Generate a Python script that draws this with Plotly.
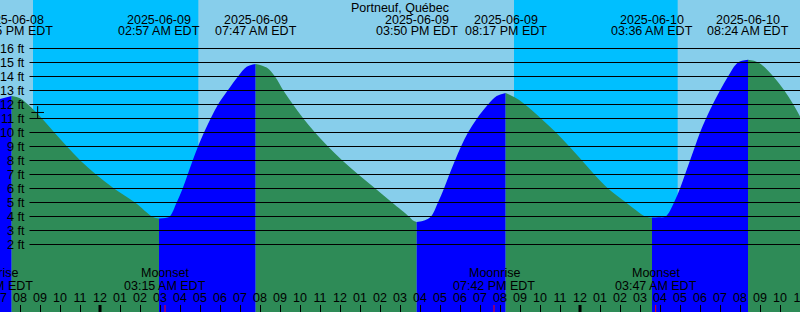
import plotly.graph_objects as go
import pandas as pd

# ---------------- data ----------------
x_start = '2025-06-08 19:00'
x_end = '2025-06-10 11:00'

tide_times = [
    # rising to the 06-08 high
    '2025-06-08 19:00', '2025-06-08 19:35',
    # falling
    '2025-06-08 20:00', '2025-06-08 20:24', '2025-06-08 21:06', '2025-06-08 21:43',
    '2025-06-08 22:21', '2025-06-08 23:01', '2025-06-08 23:48', '2025-06-09 00:42',
    '2025-06-09 01:45', '2025-06-09 02:36', '2025-06-09 02:48', '2025-06-09 02:57',
    # rising
    '2025-06-09 03:15', '2025-06-09 03:29', '2025-06-09 03:50', '2025-06-09 04:08',
    '2025-06-09 04:23', '2025-06-09 04:38', '2025-06-09 04:54', '2025-06-09 05:12',
    '2025-06-09 05:32', '2025-06-09 05:54', '2025-06-09 06:23', '2025-06-09 06:54',
    '2025-06-09 07:20', '2025-06-09 07:47',
    # falling
    '2025-06-09 08:20', '2025-06-09 08:45', '2025-06-09 09:10', '2025-06-09 09:39',
    '2025-06-09 10:10', '2025-06-09 10:45', '2025-06-09 11:24', '2025-06-09 12:07',
    '2025-06-09 12:55', '2025-06-09 13:46', '2025-06-09 14:36', '2025-06-09 15:27',
    '2025-06-09 15:39', '2025-06-09 15:50',
    # rising
    '2025-06-09 16:15', '2025-06-09 16:33', '2025-06-09 16:54', '2025-06-09 17:12',
    '2025-06-09 17:28', '2025-06-09 17:45', '2025-06-09 18:03', '2025-06-09 18:24',
    '2025-06-09 18:51', '2025-06-09 19:24', '2025-06-09 19:50', '2025-06-09 20:17',
    # falling
    '2025-06-09 20:50', '2025-06-09 21:15', '2025-06-09 22:03', '2025-06-09 22:48',
    '2025-06-09 23:28', '2025-06-10 00:06', '2025-06-10 00:43', '2025-06-10 01:24',
    '2025-06-10 02:18', '2025-06-10 03:15', '2025-06-10 03:25', '2025-06-10 03:36',
    # rising
    '2025-06-10 03:55', '2025-06-10 04:17', '2025-06-10 04:42', '2025-06-10 05:00',
    '2025-06-10 05:15', '2025-06-10 05:30', '2025-06-10 05:45', '2025-06-10 06:00',
    '2025-06-10 06:18', '2025-06-10 06:38', '2025-06-10 07:00', '2025-06-10 07:24',
    '2025-06-10 07:54', '2025-06-10 08:24',
    # falling
    '2025-06-10 08:55', '2025-06-10 09:40', '2025-06-10 10:13', '2025-06-10 10:40',
    '2025-06-10 11:00',
]
tide_levels = [
    12.4, 12.6,
    12.45, 12.0, 11.0, 10.0,
    9.0, 8.0, 7.0, 6.0,
    5.0, 4.0, 3.9, 3.85,
    3.9, 4.0, 5.0, 6.0,
    7.0, 8.0, 9.0, 10.0,
    11.0, 12.0, 13.0, 14.0,
    14.69, 14.9,
    14.64, 14.0, 13.0, 12.0,
    11.0, 10.0, 9.0, 8.0,
    7.0, 6.0, 5.0, 4.0,
    3.72, 3.6,
    3.74, 4.0, 5.0, 6.0,
    7.0, 8.0, 9.0, 10.0,
    11.0, 12.0, 12.6, 12.83,
    12.43, 12.0, 11.0, 10.0,
    9.0, 8.0, 7.0, 6.0,
    5.0, 4.0, 3.95, 3.92,
    3.94, 4.0, 5.0, 6.0,
    7.0, 8.0, 9.0, 10.0,
    11.0, 12.0, 13.0, 14.0,
    15.0, 15.2,
    15.0, 14.0, 13.0, 12.0,
    11.15,
]

event_times = ['2025-06-08 19:35', '2025-06-09 02:57', '2025-06-09 07:47', '2025-06-09 15:50',
               '2025-06-09 20:17', '2025-06-10 03:36', '2025-06-10 08:24']
event_dates = ['2025-06-08', '2025-06-09', '2025-06-09', '2025-06-09',
               '2025-06-09', '2025-06-10', '2025-06-10']
event_clock = ['07:35 PM EDT', '02:57 AM EDT', '07:47 AM EDT', '03:50 PM EDT',
               '08:17 PM EDT', '03:36 AM EDT', '08:24 AM EDT']

moon_times = ['2025-06-08 18:37', '2025-06-09 03:15', '2025-06-09 19:42', '2025-06-10 03:47']
moon_names = ['Moonrise', 'Moonset', 'Moonrise', 'Moonset']
moon_clock = ['06:37 PM EDT', '03:15 AM EDT', '07:42 PM EDT', '03:47 AM EDT']

night_start = ['2025-06-08 20:39', '2025-06-09 20:42']
night_end = ['2025-06-09 04:55', '2025-06-10 04:53']

midnights = ['2025-06-09 00:00', '2025-06-10 00:00']

now_time = ['2025-06-08 20:53']
now_level = [11.43]

ft_ticks = [2, 3, 4, 5, 6, 7, 8, 9, 10, 11, 12, 13, 14, 15, 16]
title_text = 'Portneuf, Québec'

# ---------------- style ----------------
W, H = 800, 312
DAY = '#87CEEB'
NIGHT = '#00BFFF'
FALL = '#2E8B57'
RISE = '#0000FF'
FONT = 'Liberation Sans, Arial, sans-serif'
FS = 12.5
Y_RANGE = [-2.8214, 19.4643]

t0 = pd.Timestamp(x_start)
t1 = pd.Timestamp(x_end)


def xfrac(t):
    return (pd.Timestamp(t) - t0) / (t1 - t0)


def yfrac(py):
    return 1 - py / H


fig = go.Figure()

# tide fill segments, split at high/low events
ext_idx = [tide_times.index(t) for t in event_times]
bounds = sorted(set([0] + ext_idx + [len(tide_times) - 1]))
for a, b in zip(bounds[:-1], bounds[1:]):
    xs = tide_times[a:b + 1]
    ys = tide_levels[a:b + 1]
    col = RISE if ys[-1] > ys[0] else FALL
    fig.add_trace(go.Scatter(x=[xs[0], xs[-1]], y=[-10, -10], mode='lines',
                             line=dict(width=0), hoverinfo='skip', showlegend=False))
    fig.add_trace(go.Scatter(x=xs, y=ys, mode='lines', fill='tonexty', fillcolor=col,
                             line=dict(width=0, color=col, shape='spline', smoothing=1),
                             hoverinfo='skip', showlegend=False))

# current-time marker
fig.add_trace(go.Scatter(x=now_time, y=now_level, mode='markers',
                         marker=dict(symbol='cross-thin', size=9,
                                     line=dict(width=1, color='black')),
                         hoverinfo='skip', showlegend=False))

shapes = []
for s, e in zip(night_start, night_end):
    shapes.append(dict(type='rect', xref='x', yref='paper', x0=s, x1=e, y0=0, y1=1,
                       fillcolor=NIGHT, line=dict(width=0), layer='below'))
for v in ft_ticks:
    shapes.append(dict(type='line', xref='paper', yref='y', x0=29.5 / W, x1=1, y0=v, y1=v,
                       line=dict(color='black', width=1), layer='above'))
for m in midnights:
    shapes.append(dict(type='line', xref='x', yref='paper', x0=m, x1=m, y0=0, y1=7 / H,
                       line=dict(color='black', width=3), layer='above'))
for m in moon_times:
    shapes.append(dict(type='line', xref='x', yref='paper', x0=m, x1=m, y0=0, y1=7 / H,
                       line=dict(color='red', width=1), layer='above'))

ann = []
fnt = dict(family=FONT, size=FS, color='black')
ann.append(dict(text=title_text, xref='paper', yref='paper', x=0.5, y=yfrac(8),
                xanchor='center', yanchor='middle', showarrow=False, font=fnt))
for t, d, c in zip(event_times, event_dates, event_clock):
    ann.append(dict(text=d, xref='paper', yref='paper', x=xfrac(t), y=yfrac(19.5),
                    xanchor='center', yanchor='middle', showarrow=False, font=fnt))
    ann.append(dict(text=c, xref='paper', yref='paper', x=xfrac(t), y=yfrac(31.5),
                    xanchor='center', yanchor='middle', showarrow=False, font=fnt))
for t, n, c in zip(moon_times, moon_names, moon_clock):
    ann.append(dict(text=n, xref='paper', yref='paper', x=xfrac(t), y=yfrac(273),
                    xanchor='center', yanchor='middle', showarrow=False, font=fnt))
    ann.append(dict(text=c, xref='paper', yref='paper', x=xfrac(t), y=yfrac(285.5),
                    xanchor='center', yanchor='middle', showarrow=False, font=fnt))
for v in ft_ticks:
    ann.append(dict(text=f'{v} ft', xref='paper', yref='y', x=27 / W, y=v,
                    xanchor='right', yanchor='middle', showarrow=False, font=fnt))

fig.update_layout(
    width=W, height=H,
    margin=dict(l=0, r=0, t=0, b=0, pad=0, autoexpand=False),
    paper_bgcolor=DAY, plot_bgcolor=DAY,
    showlegend=False,
    shapes=shapes, annotations=ann,
    xaxis=dict(type='date', range=[x_start, x_end], showgrid=False, zeroline=False,
               showline=False, ticks='inside', ticklen=7, tickwidth=1, tickcolor='black',
               tick0=x_start, dtick=3600000, tickformat='%I',
               ticklabelposition='inside', ticklabeloverflow='allow',
               tickfont=fnt, fixedrange=True, automargin=False),
    yaxis=dict(range=Y_RANGE, visible=False, fixedrange=True, automargin=False),
)

fig.write_html('out.html', config={'displayModeBar': False})
